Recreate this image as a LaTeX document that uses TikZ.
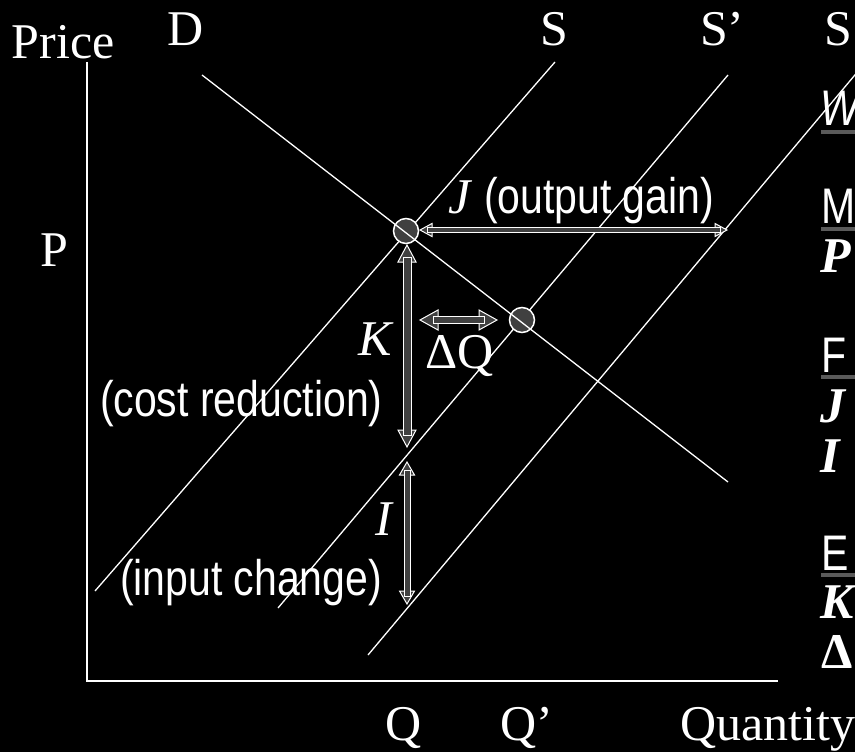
\documentclass[tikz,border=0pt]{standalone}
\usepackage{fontspec}
\setmainfont{Liberation Serif}
\newfontfamily\nsans[FakeStretch=0.82]{Liberation Sans}
\usetikzlibrary{calc}
\definecolor{dgray}{RGB}{64,64,64}
\definecolor{ugray}{RGB}{90,90,90}
\newcommand\hdbl[5]{%
  \filldraw[headst] (#1) -- ($(#1)+(#5,-#4)$) -- ($(#1)+(#5,#4)$) -- cycle;
  \filldraw[headst] (#2) -- ($(#2)+(-#5,-#4)$) -- ($(#2)+(-#5,#4)$) -- cycle;
  \filldraw[shaftst] ($(#1)+(#5-5,-#3)$) rectangle ($(#2)+(-#5+5,#3)$);
}
\newcommand\vdbl[5]{%
  \filldraw[headst] (#1) -- ($(#1)+(-#4,#5)$) -- ($(#1)+(#4,#5)$) -- cycle;
  \filldraw[headst] (#2) -- ($(#2)+(-#4,-#5)$) -- ($(#2)+(#4,-#5)$) -- cycle;
  \filldraw[shaftst] ($(#1)+(-#3,#5-5)$) rectangle ($(#2)+(#3,-#5+5)$);
}
\begin{document}
\begin{tikzpicture}[x=1pt,y=-1pt,
  lbl/.style={anchor=base west, inner sep=0, outer sep=0, text=white, font=\fontsize{50}{60}\selectfont},
  slbl/.style={anchor=base west, inner sep=0, outer sep=0, text=white, font=\nsans\fontsize{50}{60}\selectfont},
  curve/.style={white, line width=1.3pt},
  axis/.style={white, line width=1.5pt},
  eq/.style={circle, draw=white, fill=dgray, line width=1.5pt, minimum size=25pt, inner sep=0},
  headst/.style={draw=white, fill=dgray, line width=1pt, line join=miter},
  shaftst/.style={draw=white, fill=dgray, line width=1pt},
  uline/.style={fill=ugray}]
\fill[black] (0,0) rectangle (855,752);
\useasboundingbox (0,0) rectangle (855,752);

% axes
\coordinate (yt) at (87,62);
\coordinate (o) at (87,681);
\coordinate (xr) at (778,681);
\draw[axis] (yt) -- (o) -- (xr);

% supply curves
\coordinate (S1a) at (95,591);   \coordinate (S1b) at (555,62);
\coordinate (S2a) at (278,608);  \coordinate (S2b) at (728,75);
\coordinate (S3a) at (368,655);  \coordinate (S3b) at (870,57);
\draw[curve] (S1a) -- (S1b);
\draw[curve] (S2a) -- (S2b);
\draw[curve] (S3a) -- (S3b);

% equilibrium points
\node[eq] (e1) at (406,231) {};
\node[eq] (e2) at (522,320) {};

% demand curve
\coordinate (Da) at (202,75); \coordinate (Db) at (728,482);
\draw[curve] (Da) -- (Db);

% arrows
\coordinate (J1) at (420,230); \coordinate (J2) at (727,230);
\hdbl{J1}{J2}{2.5}{6.5}{12}
\coordinate (DQ1) at (420,320); \coordinate (DQ2) at (497,320);
\hdbl{DQ1}{DQ2}{3.5}{10}{18}
\coordinate (K1) at (407,245); \coordinate (K2) at (407,447);
\vdbl{K1}{K2}{4}{9}{17}
\coordinate (I1) at (407,462); \coordinate (I2) at (407,604);
\vdbl{I1}{I2}{3}{7.5}{13}

% axis and curve labels
\node[lbl] (price) at (12,59) {Price};
\node[lbl] (dl) at (167,46) {D};
\node[lbl] (sl) at (540,46) {S};
\node[lbl] (spl) at (700,46) {S’};
\node[lbl] (sppl) at (824,46) {S’’};
\node[lbl] (pl) at (40,266) {P};
\node[lbl] (ql) at (385,740) {Q};
\node[lbl] (qpl) at (500,740) {Q’};
\node[lbl] (qty) at (680,740) {Quantity};

% effect labels
\node[lbl, font=\fontsize{50}{60}\selectfont\itshape] (jl) at (448,213) {J};
\node[slbl] (jt) at (484,213) {(output gain)};
\node[lbl, font=\fontsize{50}{60}\selectfont\itshape] (kl) at (358,355) {K};
\node[slbl] (kt) at (100,416) {(cost reduction)};
\node[lbl] (dql) at (425,368) {ΔQ};
\node[lbl, font=\fontsize{50}{60}\selectfont\itshape] (il) at (375,535) {I};
\node[slbl] (it) at (120,595) {(input change)};

% right column (cut by the edge)
\node[slbl, font=\nsans\itshape\fontsize{50}{60}\selectfont] (rw) at (820,125) {W};
\fill[uline] (821,130) rectangle (860,134);
\node[slbl] (rm) at (821,223) {M};
\fill[uline] (821,227) rectangle (860,231);
\node[lbl, font=\fontsize{50}{60}\selectfont\bfseries\itshape] (rp) at (820,272) {P};
\node[slbl] (rf) at (821,372) {F};
\fill[uline] (821,375) rectangle (860,379);
\node[lbl, font=\fontsize{50}{60}\selectfont\bfseries\itshape] (rj) at (820,422) {J};
\node[lbl, font=\fontsize{50}{60}\selectfont\bfseries\itshape] (ri) at (820,472) {I};
\node[slbl] (re) at (821,570) {E};
\fill[uline] (821,573) rectangle (860,577);
\node[lbl, font=\fontsize{50}{60}\selectfont\bfseries\itshape] (rk) at (820,618) {K};
\node[lbl, font=\fontsize{50}{60}\selectfont\bfseries] (rd) at (821,668) {Δ};
\end{tikzpicture}
\end{document}
